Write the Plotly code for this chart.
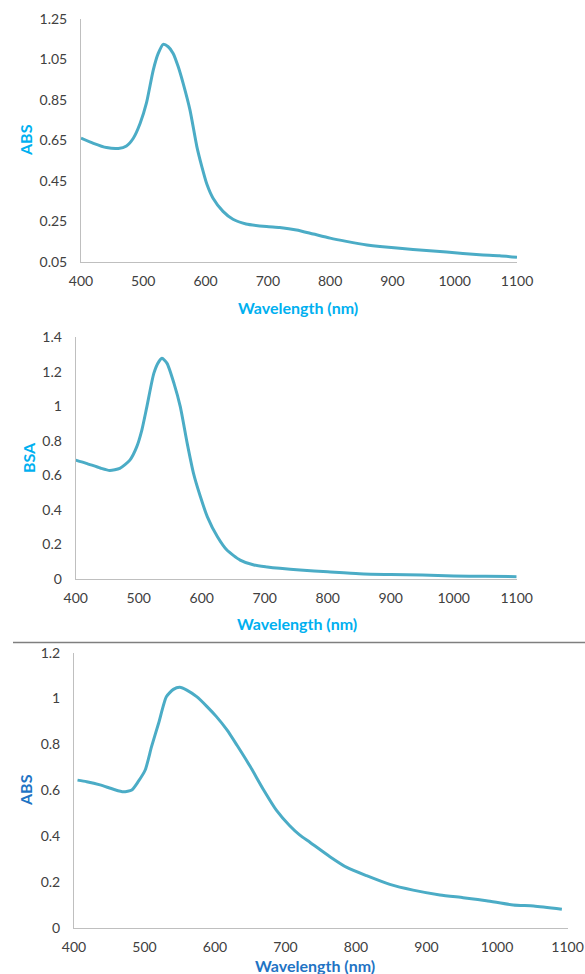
import plotly.graph_objects as go

# ---------------- data ----------------
wl_1 = [400, 420, 441, 460, 473, 484, 495, 505, 516, 524, 532, 540, 548, 556, 564, 575, 586, 594, 602, 612,
        628, 644, 665, 698, 719, 746, 773, 800, 826, 859, 880, 933, 987, 1040, 1072, 1100]
abs_1 = [0.662, 0.636, 0.615, 0.611, 0.623, 0.661, 0.735, 0.834, 0.998, 1.080, 1.125, 1.113, 1.080, 1.015,
         0.932, 0.800, 0.620, 0.521, 0.435, 0.365, 0.300, 0.261, 0.238, 0.225, 0.220, 0.208, 0.188, 0.168,
         0.152, 0.134, 0.126, 0.112, 0.099, 0.086, 0.081, 0.073]

wl_2 = [400, 417, 439, 454, 470, 486, 497, 505, 513, 524, 532, 537, 545, 556, 566, 577, 587, 598, 609, 625,
        640, 661, 683, 704, 724, 756, 800, 850, 900, 950, 1000, 1050, 1100]
bsa_2 = [0.688, 0.669, 0.642, 0.628, 0.640, 0.688, 0.766, 0.862, 0.998, 1.191, 1.259, 1.278, 1.249, 1.133,
         0.998, 0.785, 0.611, 0.475, 0.359, 0.243, 0.166, 0.108, 0.079, 0.068, 0.060, 0.050, 0.040, 0.029,
         0.024, 0.021, 0.016, 0.014, 0.012]

wl_3 = [405, 418, 437, 456, 470, 482, 491, 501, 510, 520, 531, 541, 550, 560, 574, 588, 602, 617, 631, 650,
        669, 687, 706, 720, 735, 763, 787, 815, 848, 881, 919, 952, 985, 1023, 1052, 1092]
abs_3 = [0.644, 0.637, 0.623, 0.604, 0.593, 0.601, 0.637, 0.688, 0.790, 0.892, 1.008, 1.040, 1.049, 1.037,
         1.008, 0.967, 0.921, 0.863, 0.797, 0.703, 0.601, 0.513, 0.445, 0.405, 0.372, 0.310, 0.263, 0.227,
         0.189, 0.164, 0.143, 0.131, 0.118, 0.099, 0.095, 0.081]

x_ticks = [400, 500, 600, 700, 800, 900, 1000, 1100]
y_ticks_1 = [0.05, 0.25, 0.45, 0.65, 0.85, 1.05, 1.25]
y_labels_1 = ["0.05", "0.25", "0.45", "0.65", "0.85", "1.05", "1.25"]
y_ticks_2 = [0, 0.2, 0.4, 0.6, 0.8, 1.0, 1.2, 1.4]
y_labels_2 = ["0", "0.2", "0.4", "0.6", "0.8", "1", "1.2", "1.4"]
y_ticks_3 = [0, 0.2, 0.4, 0.6, 0.8, 1.0, 1.2]
y_labels_3 = ["0", "0.2", "0.4", "0.6", "0.8", "1", "1.2"]

# ---------------- layout helpers ----------------
W, H = 585, 974
LINE = "#4BACC6"
FONT = "Lato"
TICKC = "#404040"


def px_x(p):
    return p / W


def px_y(p):
    return 1 - p / H


fig = go.Figure()
fig.add_trace(go.Scatter(x=wl_1, y=abs_1, mode="lines", line=dict(color=LINE, width=3, shape="spline", smoothing=0.6),
                         xaxis="x", yaxis="y", showlegend=False))
fig.add_trace(go.Scatter(x=wl_2, y=bsa_2, mode="lines", line=dict(color=LINE, width=3, shape="spline", smoothing=0.6),
                         xaxis="x2", yaxis="y2", showlegend=False))
fig.add_trace(go.Scatter(x=wl_3, y=abs_3, mode="lines", line=dict(color=LINE, width=3, shape="spline", smoothing=0.6),
                         xaxis="x3", yaxis="y3", showlegend=False))


def xax(dom, anchor):
    return dict(domain=dom, anchor=anchor, range=[400, 1100], tickvals=x_ticks, showgrid=False, zeroline=False,
                showline=True, linecolor="#BFBFBF", linewidth=1, ticks="outside", ticklen=6, automargin=False,
                tickcolor="rgba(0,0,0,0)", tickfont=dict(family=FONT, size=14, color=TICKC))


def yax(dom, anchor, rng, tv, tt):
    return dict(domain=dom, anchor=anchor, range=rng, tickvals=tv, ticktext=tt, showgrid=False, zeroline=False,
                showline=True, linecolor="#BFBFBF", linewidth=1, ticks="outside", ticklen=10, automargin=False,
                tickcolor="rgba(0,0,0,0)", tickfont=dict(family=FONT, size=14, color=TICKC))


fig.update_layout(
    width=W, height=H, margin=dict(l=0, r=0, t=0, b=0, autoexpand=False),
    paper_bgcolor="white", plot_bgcolor="white",
    xaxis=xax([px_x(81), px_x(517)], "y"),
    yaxis=yax([px_y(262), px_y(19)], "x", [0.05, 1.25], y_ticks_1, y_labels_1),
    xaxis2=xax([px_x(75.7), px_x(516.7)], "y2"),
    yaxis2=yax([px_y(578.7), px_y(337.3)], "x2", [0, 1.4], y_ticks_2, y_labels_2),
    xaxis3=xax([px_x(74), px_x(567.5)], "y3"),
    yaxis3=yax([px_y(927.7), px_y(652.7)], "x3", [0, 1.2], y_ticks_3, y_labels_3),
)

C1 = "#00B0F0"
C3 = "#1F74C4"
ann = [
    ("Wavelength (nm)", 298, 307, 0, C1),
    ("ABS", 25, 140, -90, C1),
    ("Wavelength (nm)", 297, 623, 0, C1),
    ("BSA", 28, 458, -90, C1),
    ("Wavelength (nm)", 315, 965, 0, C3),
    ("ABS", 25, 790, -90, C3),
]
for text, x, y, ang, col in ann:
    fig.add_annotation(text="<b>%s</b>" % text, x=px_x(x), y=px_y(y), xref="paper", yref="paper",
                       showarrow=False, textangle=ang, xanchor="center", yanchor="middle",
                       font=dict(family=FONT, size=16, color=col))

fig.add_shape(type="line", xref="paper", yref="paper", x0=px_x(13), x1=1, y0=px_y(642.5), y1=px_y(642.5),
              line=dict(color="#7F7F7F", width=1.5))

fig.write_html("out.html", config={"displayModeBar": False},
               post_script="document.body.style.margin='0';document.body.style.overflow='hidden';")
